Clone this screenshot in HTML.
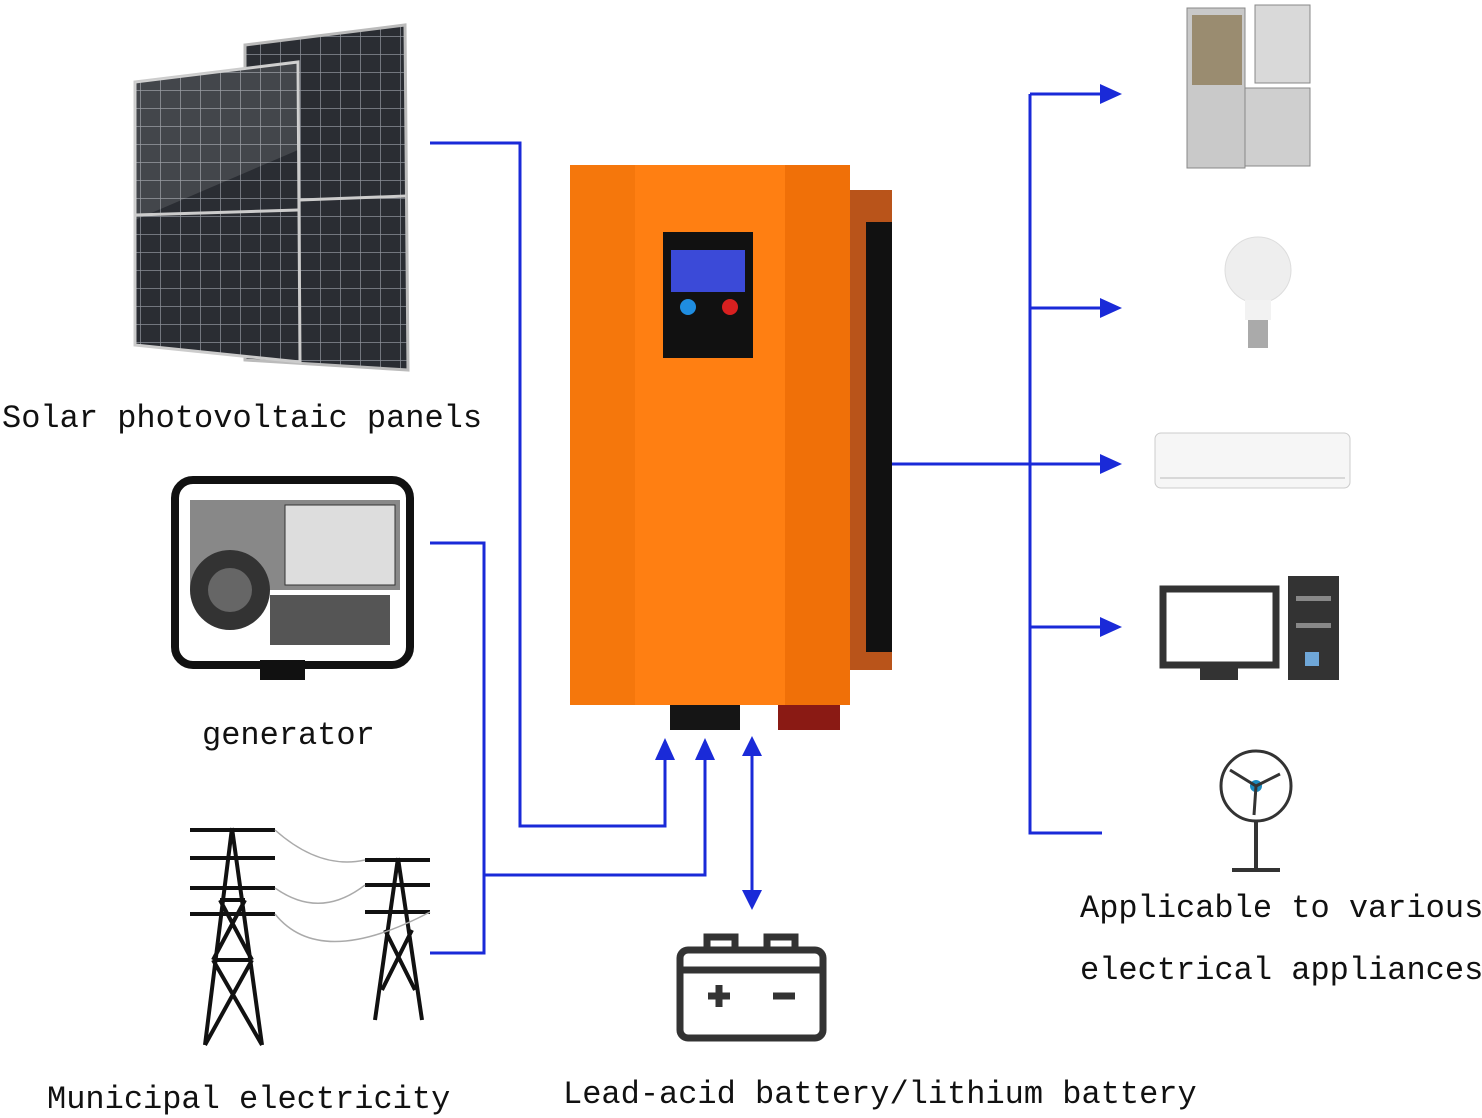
<!DOCTYPE html>
<html><head><meta charset="utf-8"><style>
body{margin:0;background:#fff;width:1482px;height:1116px;overflow:hidden;position:relative;font-family:"Liberation Mono",monospace}
.t{position:absolute;font-size:32px;color:#111;white-space:pre;line-height:1}
</style></head><body>
<svg width="1482" height="1116" style="position:absolute;left:0;top:0">
<defs>
<pattern id="cell" width="20" height="18" patternUnits="userSpaceOnUse"><rect width="20" height="18" fill="#2a2d33"/><path d="M0 0H20M0 0V18" stroke="#8a8f96" stroke-width="1.5"/></pattern>
</defs>
<polygon points="245,45 405,25 408,370 245,360" fill="url(#cell)" stroke="#bbb" stroke-width="3"/>
<polygon points="135,82 298,62 300,362 135,345" fill="url(#cell)" stroke="#ccc" stroke-width="3"/>
<polygon points="135,82 298,62 298,150 135,220" fill="#fff" opacity="0.12"/>
<line x1="135" y1="215" x2="298" y2="210" stroke="#ccc" stroke-width="3"/>
<line x1="300" y1="200" x2="406" y2="196" stroke="#ccc" stroke-width="3"/>
<rect x="175" y="480" width="235" height="185" rx="18" fill="none" stroke="#111" stroke-width="8"/>
<rect x="190" y="500" width="210" height="90" fill="#888"/>
<rect x="285" y="505" width="110" height="80" fill="#ddd" stroke="#333"/>
<circle cx="230" cy="590" r="40" fill="#333"/>
<circle cx="230" cy="590" r="22" fill="#666"/>
<rect x="270" y="595" width="120" height="50" fill="#555"/>
<rect x="260" y="660" width="45" height="20" fill="#111"/>
<g stroke="#111" stroke-width="4" fill="none">
<path d="M232 828 L205 1045 M232 828 L262 1045 M220 900 L245 900 M213 960 L252 960 M205 1045 L252 960 M262 1045 L213 960 M220 900 L252 960 M245 900 L213 960 M190 830H275 M190 858H275 M190 888H275 M190 914H275"/>
<path d="M398 858 L375 1020 M398 858 L422 1020 M365 860H430 M365 885H430 M365 912H430 M385 930 L415 990 M412 930 L382 990"/>
</g>
<g stroke="#aaa" stroke-width="1.5" fill="none"><path d="M275 830 Q320 870 365 860 M275 888 Q320 920 365 885 M275 914 Q320 970 430 912"/></g>
<g stroke="#1a2ad8" stroke-width="3" fill="none">
<path d="M430 143H520V826H665V755"/>
<path d="M430 543H484V953H430 M484 875H705V755"/>
<path d="M752 752V893"/>
<path d="M890 464H1105 M1030 94V833H1102 M1030 94H1105 M1030 308H1105 M1030 627H1105"/>
</g>
<g fill="#1a2ad8">
<path d="M665 738L655 760H675Z"/><path d="M705 738L695 760H715Z"/>
<path d="M752 736L742 756H762Z"/><path d="M752 910L742 890H762Z"/>
<path d="M1122 94L1100 84V104Z"/><path d="M1122 308L1100 298V318Z"/><path d="M1122 464L1100 454V474Z"/><path d="M1122 627L1100 617V637Z"/>
</g>
<rect x="848" y="190" width="44" height="480" fill="#b9541a"/>
<rect x="866" y="222" width="26" height="430" fill="#111"/>
<rect x="570" y="165" width="280" height="540" rx="6" fill="#ff7f12"/>
<rect x="570" y="165" width="65" height="540" fill="#f5770c"/>
<rect x="785" y="165" width="65" height="540" fill="#f07008"/>
<rect x="663" y="232" width="90" height="126" fill="#111"/>
<rect x="671" y="250" width="74" height="42" fill="#3b4ad8"/>
<circle cx="688" cy="307" r="8" fill="#1f8de0"/><circle cx="730" cy="307" r="8" fill="#d82020"/>
<rect x="670" y="705" width="70" height="25" fill="#151515"/>
<rect x="778" y="705" width="62" height="25" fill="#8a1a14"/>
<g stroke="#333" stroke-width="7" fill="none">
<rect x="680" y="950" width="143" height="88" rx="8"/>
<rect x="707" y="937" width="28" height="13"/><rect x="767" y="937" width="28" height="13"/>
<path d="M680 970H823 M708 996H730 M719 985V1007 M773 996H795"/>
</g>
<rect x="1187" y="8" width="58" height="160" fill="#c9c9c9" stroke="#888"/>
<rect x="1192" y="15" width="50" height="70" fill="#9a8c70"/>
<rect x="1255" y="5" width="55" height="78" fill="#d9d9d9" stroke="#888"/>
<rect x="1245" y="88" width="65" height="78" fill="#cfcfcf" stroke="#888"/>
<circle cx="1258" cy="270" r="33" fill="#eee" stroke="#ddd"/>
<rect x="1245" y="300" width="26" height="20" fill="#f2f2f2"/>
<rect x="1248" y="320" width="20" height="28" fill="#aaa"/>
<rect x="1155" y="433" width="195" height="55" rx="6" fill="#f6f6f6" stroke="#ccc"/>
<line x1="1160" y1="478" x2="1345" y2="478" stroke="#bbb"/>
<rect x="1163" y="589" width="113" height="76" fill="none" stroke="#333" stroke-width="7"/>
<rect x="1200" y="668" width="38" height="12" fill="#333"/>
<rect x="1288" y="576" width="51" height="104" fill="#333"/>
<rect x="1296" y="596" width="35" height="5" fill="#888"/><rect x="1296" y="623" width="35" height="5" fill="#888"/>
<rect x="1305" y="652" width="14" height="14" fill="#6fa7d8"/>
<circle cx="1256" cy="786" r="35" fill="none" stroke="#333" stroke-width="3"/>
<circle cx="1256" cy="786" r="6" fill="#1a8ac0"/>
<path d="M1256 786L1230 770M1256 786L1280 774M1256 786L1254 815" stroke="#333" stroke-width="3"/>
<path d="M1256 820V868M1232 870H1280" stroke="#333" stroke-width="4"/>
</svg>
<div class="t" style="left:2px;top:403px">Solar photovoltaic panels</div>
<div class="t" style="left:202px;top:720px">generator</div>
<div class="t" style="left:47px;top:1084px">Municipal electricity</div>
<div class="t" style="left:563px;top:1079px">Lead-acid battery/lithium battery</div>
<div class="t" style="left:1080px;top:893px">Applicable to various</div>
<div class="t" style="left:1080px;top:955px">electrical appliances</div>
</body></html>
